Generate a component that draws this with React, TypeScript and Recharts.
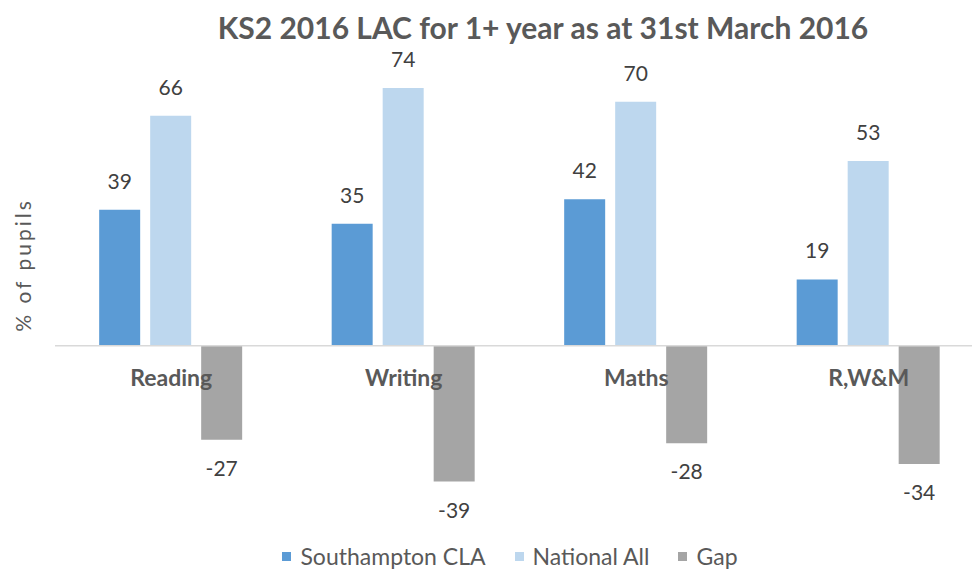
import React from "react";
import { BarChart, Bar, XAxis, YAxis, ReferenceLine, LabelList } from "recharts";

const categories = ["Reading", "Writing", "Maths", "R,W&M"];
const southampton = [39, 35, 42, 19];
const national = [66, 74, 70, 53];
const gap = [-27, -39, -28, -34];

const SERIES = [
  { key: "southampton", name: "Southampton CLA", color: "#5B9BD5" },
  { key: "national", name: "National All", color: "#BDD7EE" },
  { key: "gap", name: "Gap", color: "#A5A5A5" },
];

const FONT = "Lato, 'Open Sans', sans-serif";

const data = categories.map((c, i) => ({
  name: c,
  southampton: southampton[i],
  national: national[i],
  gap: gap[i],
}));

const ValueLabel = (props: any) => {
  const { x, y, width, height, value } = props;
  const top = Math.min(y, y + height);
  const bottom = Math.max(y, y + height);
  const cx = x + width / 2;
  const ty = value >= 0 ? top - 21 : bottom + 36;
  return (
    <text x={cx} y={ty} textAnchor="middle" fill="#404040" fontSize={21} fontFamily={FONT}>
      {value}
    </text>
  );
};

const CategoryTick = (props: any) => {
  const { x, payload } = props;
  return (
    <text x={x} y={386} textAnchor="middle" fill="#595959" fontSize={23} fontWeight="bold" fontFamily={FONT}>
      {payload.value}
    </text>
  );
};

export default function App() {
  return (
    <div style={{ position: "fixed", left: 0, top: 0, width: 972, height: 569, overflow: "hidden", background: "#fff", fontFamily: FONT }}>
      <div style={{ position: "absolute", left: 0, width: 1086, top: 8, textAlign: "center", fontSize: 30, lineHeight: "38px", fontWeight: "bold", color: "#595959" }}>
        KS2 2016 LAC for 1+ year as at 31st March 2016
      </div>
      <div style={{ position: "absolute", left: 22, top: 265, transform: "translate(-50%, -50%) rotate(-90deg)", whiteSpace: "nowrap", fontSize: 21, letterSpacing: 3, color: "#595959" }}>
        % of pupils
      </div>
      <BarChart
        width={985}
        height={569}
        data={data}
        margin={{ top: 67, right: 0, left: 55, bottom: 83 }}
        barCategoryGap="19%"
        barGap={10}
      >
        <ReferenceLine y={0} stroke="#D9D9D9" strokeWidth={1.5} />
        {SERIES.map((s) => (
          <Bar key={s.key} dataKey={s.key} name={s.name} fill={s.color} isAnimationActive={false}>
            <LabelList dataKey={s.key} content={<ValueLabel />} />
          </Bar>
        ))}
        <XAxis dataKey="name" axisLine={false} tickLine={false} tick={<CategoryTick />} height={1} zIndex={1000} />
        <YAxis hide domain={[-40, 80]} allowDataOverflow />
      </BarChart>
      <div style={{ position: "absolute", top: 541, left: 0, width: 1020, display: "flex", justifyContent: "center", gap: 29, fontSize: 23, lineHeight: "30px", color: "#595959" }}>
        {SERIES.map((s) => (
          <div key={s.key} style={{ display: "flex", alignItems: "center" }}>
            <span style={{ display: "inline-block", width: 9, height: 9, background: s.color, marginRight: 9 }} />
            <span>{s.name}</span>
          </div>
        ))}
      </div>
    </div>
  );
}
